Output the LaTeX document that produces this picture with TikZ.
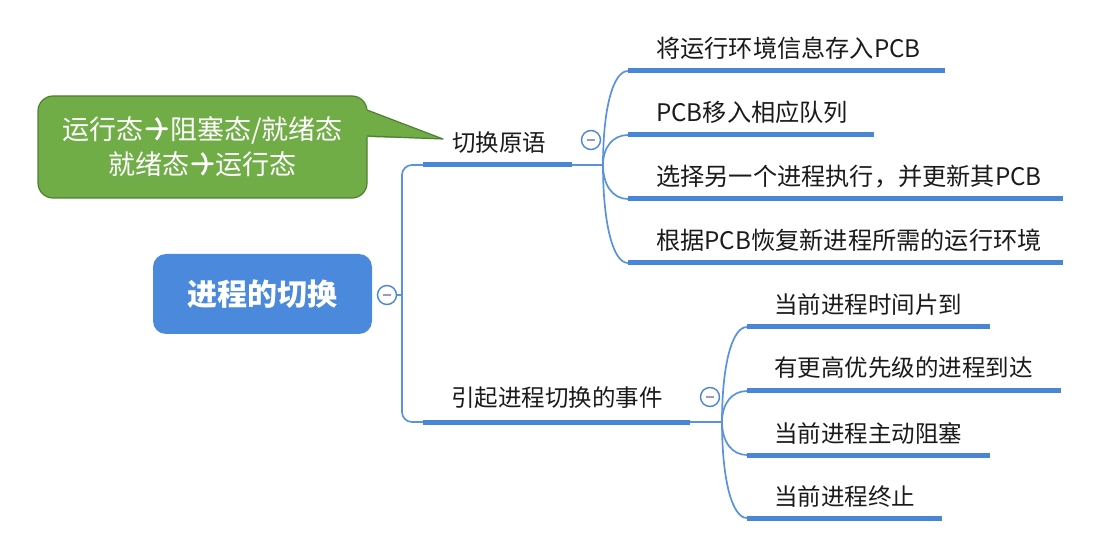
\documentclass[tikz,border=0pt]{standalone}
\usepackage{fontspec}
\newfontfamily\cjk{Noto Sans CJK SC}
\usetikzlibrary{calc}
\definecolor{ublue}{HTML}{4A86D6}
\definecolor{tblue}{HTML}{5A93DD}
\definecolor{rootblue}{HTML}{4A89DC}
\definecolor{cgreen}{HTML}{70AD47}
\definecolor{cgreenb}{HTML}{4F7F32}
\definecolor{dashgray}{HTML}{9A9AC4}
\definecolor{txt}{HTML}{1A1A1A}
\newcommand{\chevarr}{\hspace{2pt}\tikz[x=1pt,y=1pt,baseline={(0,-11pt)}]{\draw[white,line width=2.8pt,line cap=round,line join=miter] (0,0) -- (20,0) (11,9) -- (20,0) -- (11,-9);}\hspace{2pt}}
\begin{document}
\begin{tikzpicture}[x=1pt,y=-1pt,
  thinline/.style={draw=tblue,line width=1.7pt},
  uline/.style={draw=ublue,line width=5pt},
  colbtn/.style={circle,draw=ublue,fill=white,line width=1.4pt,minimum size=19pt,inner sep=0pt},
  dashmark/.style={draw=dashgray,line width=2pt},
  ttext/.style={anchor=west,inner sep=0pt,text=txt,font=\cjk\fontsize{23.5}{23.5}\selectfont},
  ttextw/.style={ttext,font=\cjk\fontsize{24.2}{24.2}\selectfont},
  rootbox/.style={fill=rootblue,rounded corners=13pt,minimum width=219pt,minimum height=80pt,
    text=white,font=\cjk\bfseries\fontsize{30}{30}\selectfont,inner sep=0pt},
  callbox/.style={fill=cgreen,draw=cgreenb,line width=1.2pt,rounded corners=15pt,
    minimum width=329pt,minimum height=102pt,text=white,align=center,
    font=\cjk\fontsize{27}{35}\selectfont,inner sep=0pt}
]
\useasboundingbox (0,0) rectangle (1101,537);

% callout
\node[callbox] (cb) at (202.5,147) {运行态\chevarr 阻塞态/就绪态\\就绪态\chevarr 运行态};
\coordinate (wa) at (367,110);
\coordinate (wb) at (367,136);
\coordinate (ctip) at (443,139);
\fill[cgreen] ($(wa)+(-2,-1)$) -- (ctip) -- ($(wb)+(-2,1)$) -- cycle;
\draw[draw=cgreenb,line width=1.2pt,line join=round] (wa) -- (ctip) -- (wb);

% root
\node[rootbox] (root) at (262.5,294) {进程的切换};
\node[colbtn] (c0) at (387,295) {};
\draw[dashmark] ($(c0)+(-4,0)$) -- ($(c0)+(4,0)$);
\coordinate (j0) at (402,295);
\draw[thinline] (c0.east) -- (j0);

% level 1 branches
\coordinate (u1s) at (423,165);
\coordinate (u1e) at (572,165);
\coordinate (o1) at (603,165);
\coordinate (u2s) at (423,422);
\coordinate (u2e) at (690,422);
\coordinate (o2) at (722,422);
\draw[thinline,rounded corners=10pt] (u1s) -- (u1s -| j0) -- (u2s -| j0) -- (u2s);
\draw[uline] (u1s) -- (u1e);
\draw[uline] (u2s) -- (u2e);
\draw[thinline] (u1e) -- (o1);
\draw[thinline] (u2e) -- (o2);
\node[ttext] (t1) at (452,143) {切换原语};
\node[ttext] (t2) at (451,398) {引起进程切换的事件};
\node[colbtn] (c1) at (591,140) {};
\draw[dashmark] ($(c1)+(-4,0)$) -- ($(c1)+(4,0)$);
\node[colbtn] (c2) at (710,397) {};
\draw[dashmark] ($(c2)+(-4,0)$) -- ($(c2)+(4,0)$);

% branch 1 children
\coordinate (a1) at (628,71);  \coordinate (b1) at (945,71);
\coordinate (a2) at (628,135); \coordinate (b2) at (874,135);
\coordinate (a3) at (628,199); \coordinate (b3) at (1063,199);
\coordinate (a4) at (628,263); \coordinate (b4) at (1063,263);
\foreach \i in {1,2,3,4}{
  \draw[thinline] (o1) .. controls ($(o1)!0.6!(o1|-a\i)$) and ($(a\i)+(-15,0)$) .. (a\i);
  \draw[uline] (a\i) -- (b\i);
}
\node[ttextw] (s1) at (656,48) {将运行环境信息存入PCB};
\node[ttextw] (s2) at (656,112) {PCB移入相应队列};
\node[ttextw] (s3) at (656,177) {选择另一个进程执行，并更新其PCB};
\node[ttextw] (s4) at (656,240) {根据PCB恢复新进程所需的运行环境};

% branch 2 children
\coordinate (d1) at (747,327); \coordinate (e1) at (990,327);
\coordinate (d2) at (747,391); \coordinate (e2) at (1061,391);
\coordinate (d3) at (747,455); \coordinate (e3) at (990,455);
\coordinate (d4) at (747,518); \coordinate (e4) at (942,518);
\foreach \i in {1,2,3,4}{
  \draw[thinline] (o2) .. controls ($(o2)!0.6!(o2|-d\i)$) and ($(d\i)+(-15,0)$) .. (d\i);
  \draw[uline] (d\i) -- (e\i);
}
\node[ttext] (r1) at (774,305) {当前进程时间片到};
\node[ttext] (r2) at (774,368) {有更高优先级的进程到达};
\node[ttext] (r3) at (774,433) {当前进程主动阻塞};
\node[ttext] (r4) at (774,497) {当前进程终止};
\end{tikzpicture}
\end{document}
